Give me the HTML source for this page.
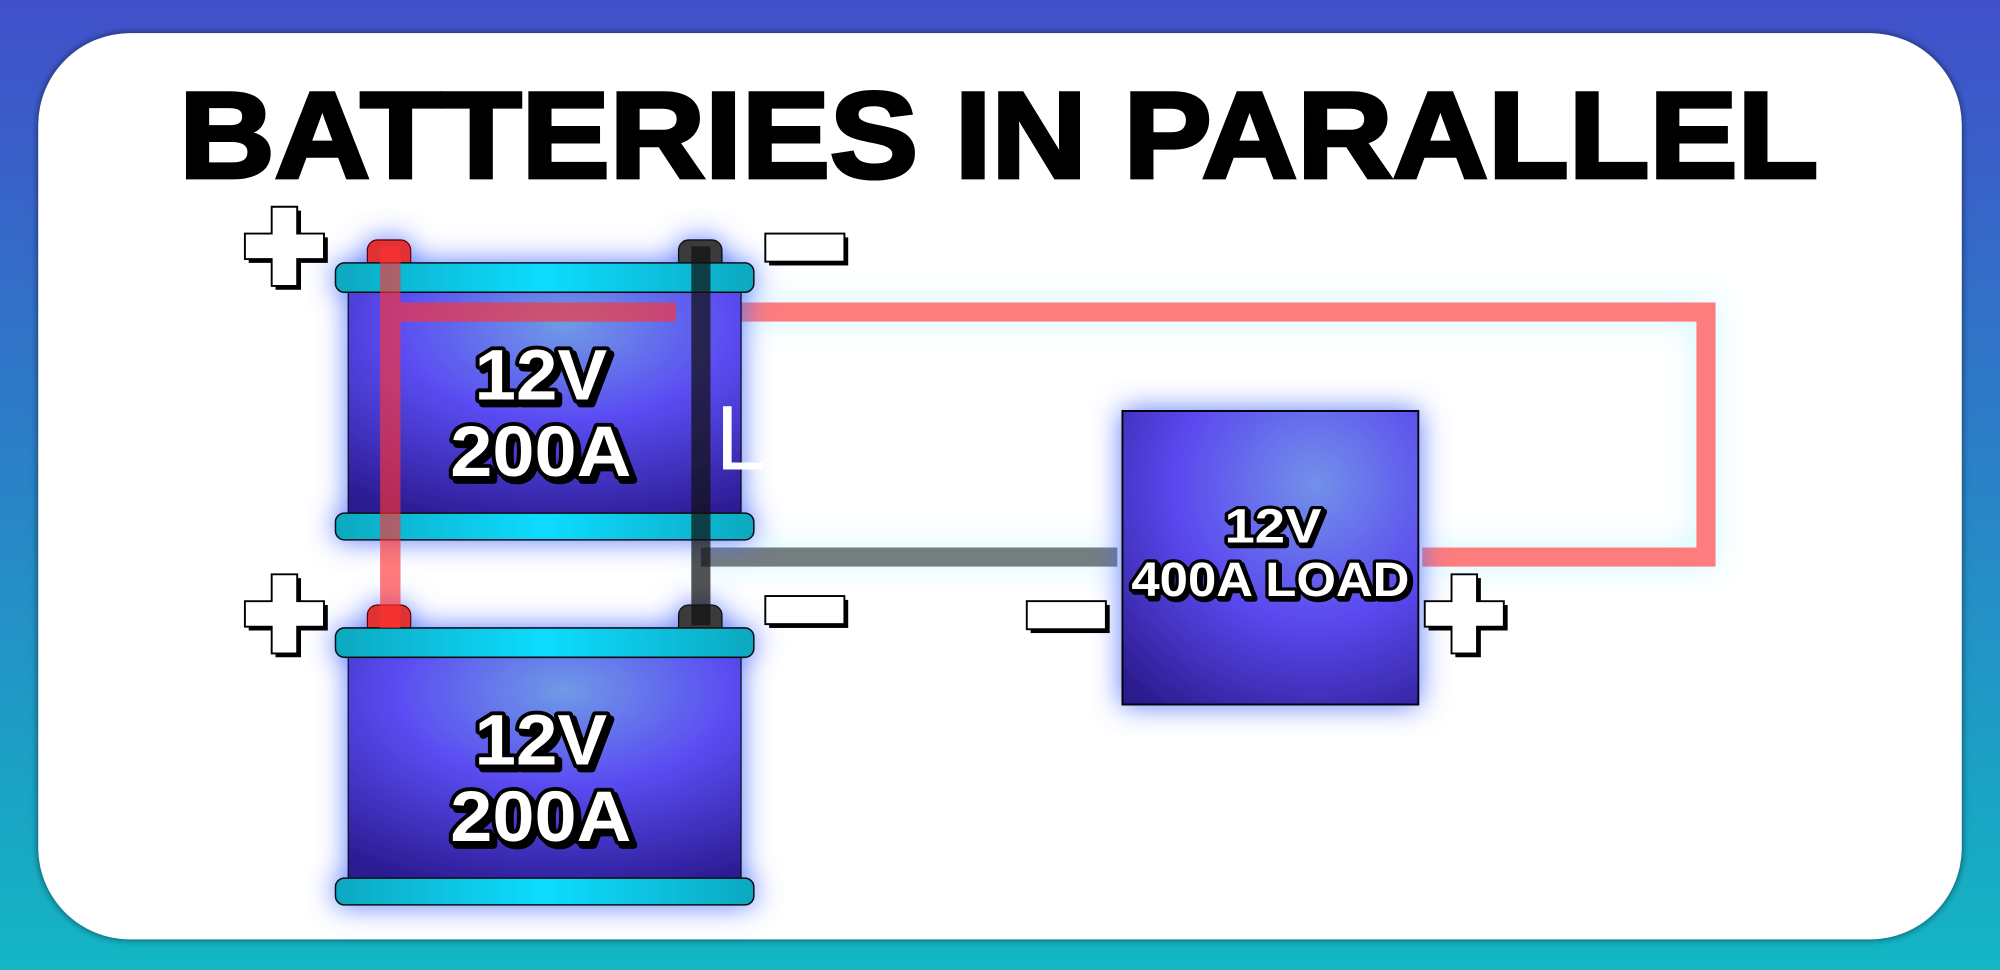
<!DOCTYPE html>
<html><head><style>html,body{margin:0;padding:0;width:2000px;height:970px;overflow:hidden}svg{display:block}</style></head>
<body>
<svg width="2000" height="970" viewBox="0 0 1568 760" preserveAspectRatio="none" xmlns="http://www.w3.org/2000/svg">
<defs>
<linearGradient id="bg" x1="0" y1="0" x2="0" y2="1"><stop offset="0" stop-color="#4150ca"/><stop offset="1" stop-color="#12b6c4"/></linearGradient>
<radialGradient id="bat" cx="0.55" cy="0.15" r="0.95"><stop offset="0" stop-color="#6f9ae6"/><stop offset="0.45" stop-color="#5a4cf2"/><stop offset="1" stop-color="#2a1a90"/></radialGradient>
<radialGradient id="load" cx="0.65" cy="0.25" r="0.95"><stop offset="0" stop-color="#7290ea"/><stop offset="0.5" stop-color="#5a48ee"/><stop offset="1" stop-color="#2a1a8a"/></radialGradient>
<linearGradient id="cap" x1="0" y1="0" x2="1" y2="0"><stop offset="0" stop-color="#0aa8c0"/><stop offset="0.5" stop-color="#08dcff"/><stop offset="1" stop-color="#0aa8c0"/></linearGradient>
<filter id="glow" x="-30%" y="-30%" width="160%" height="160%"><feDropShadow dx="0" dy="0" stdDeviation="11" flood-color="#4a6cff" flood-opacity="0.9"/></filter>
<filter id="wglow" x="-10%" y="-30%" width="120%" height="160%"><feDropShadow dx="0" dy="0" stdDeviation="12" flood-color="#9ff0ff" flood-opacity="0.6"/></filter>
<filter id="pshadow" x="-5%" y="-5%" width="110%" height="110%"><feDropShadow dx="0" dy="0" stdDeviation="3" flood-color="#000" flood-opacity="0.6"/></filter>
<g id="plus"><path d="M21 0h20v21h21v20h-21v21h-20v-21h-21v-20h21z" fill="#000" transform="translate(3,3)"/><path d="M21 0h20v21h21v20h-21v21h-20v-21h-21v-20h21z" fill="#fff" stroke="#000" stroke-width="1.5"/></g>
<g id="minus"><rect x="3" y="3" width="62" height="22" fill="#000"/><rect x="0" y="0" width="62" height="22" fill="#fff" stroke="#000" stroke-width="1.5"/></g>
<g id="battery">
<g filter="url(#glow)">
<rect x="25" y="-18" width="34" height="26" rx="8" fill="#e03030" stroke="#600" stroke-width="1"/>
<rect x="269" y="-18" width="34" height="26" rx="8" fill="#3a3a3a" stroke="#111" stroke-width="1"/>
<rect x="10" y="23" width="308" height="173" fill="url(#bat)" stroke="#111" stroke-width="1"/>
<rect x="0" y="0" width="328" height="23" rx="7" fill="url(#cap)" stroke="#111" stroke-width="1.2"/>
<rect x="0" y="196" width="328" height="21" rx="7" fill="url(#cap)" stroke="#111" stroke-width="1.2"/>
</g>
<g font-family="Liberation Sans, Arial, sans-serif" font-weight="bold" font-size="56" text-anchor="middle" stroke-linejoin="round">
<text x="161" y="107" fill="#000" stroke="#000" stroke-width="6" transform="translate(3,3)" textLength="104" lengthAdjust="spacingAndGlyphs">12V</text>
<text x="161" y="107" fill="#fff" stroke="#000" stroke-width="6" paint-order="stroke" textLength="104" lengthAdjust="spacingAndGlyphs">12V</text>
<text x="161" y="167" fill="#000" stroke="#000" stroke-width="6" transform="translate(3,3)" textLength="142" lengthAdjust="spacingAndGlyphs">200A</text>
<text x="161" y="167" fill="#fff" stroke="#000" stroke-width="6" paint-order="stroke" textLength="142" lengthAdjust="spacingAndGlyphs">200A</text>
</g>
</g>
</defs>
<rect width="1568" height="760" fill="url(#bg)"/>
<rect x="30" y="26" width="1508" height="710" rx="72" fill="#fff" filter="url(#pshadow)"/>
<text x="783" y="139" font-family="Liberation Sans, Arial, sans-serif" font-weight="bold" font-size="96" text-anchor="middle" textLength="1285" lengthAdjust="spacingAndGlyphs" fill="#000" stroke="#000" stroke-width="3">BATTERIES IN PARALLEL</text>

<g filter="url(#wglow)">
<path d="M570 244.5H1337.5V436.5H1115" fill="none" stroke="#ff6b6b" stroke-width="15" opacity="0.9"/>
<path d="M549.5 436.5H876" fill="none" stroke="#555" stroke-width="15" opacity="0.8"/>
</g>

<use href="#battery" x="263" y="206"/>
<use href="#battery" x="263" y="492"/>

<text x="561" y="368" font-family="Liberation Sans, Arial, sans-serif" font-size="72" fill="#fff">L</text>

<path d="M306 193V492" stroke="#ff3333" stroke-width="16" opacity="0.65" fill="none"/>
<path d="M314 244.5H530" stroke="#ff3333" stroke-width="15" opacity="0.65" fill="none"/>
<path d="M549.5 193V490" stroke="#111" stroke-width="15" opacity="0.72" fill="none"/>

<rect x="880" y="322" width="232" height="230" fill="url(#load)" stroke="#000" stroke-width="1.5" filter="url(#glow)"/>
<g font-family="Liberation Sans, Arial, sans-serif" font-weight="bold" font-size="38" text-anchor="middle">
<text x="998" y="425" fill="#000" stroke="#000" stroke-width="5" stroke-linejoin="round" transform="translate(2,2)" textLength="76" lengthAdjust="spacingAndGlyphs">12V</text>
<text x="998" y="425" fill="#fff" stroke="#000" stroke-width="5" stroke-linejoin="round" paint-order="stroke" textLength="76" lengthAdjust="spacingAndGlyphs">12V</text>
<text x="996" y="467" fill="#000" stroke="#000" stroke-width="5" stroke-linejoin="round" transform="translate(2,2)" textLength="218" lengthAdjust="spacingAndGlyphs">400A LOAD</text>
<text x="996" y="467" fill="#fff" stroke="#000" stroke-width="5" stroke-linejoin="round" paint-order="stroke" textLength="218" lengthAdjust="spacingAndGlyphs">400A LOAD</text>
</g>

<use href="#plus" x="192" y="162"/>
<use href="#minus" x="600" y="183"/>
<use href="#plus" x="192" y="450"/>
<use href="#minus" x="600" y="467"/>
<use href="#minus" x="805" y="471"/>
<use href="#plus" x="1117" y="450"/>
</svg>
</body></html>
